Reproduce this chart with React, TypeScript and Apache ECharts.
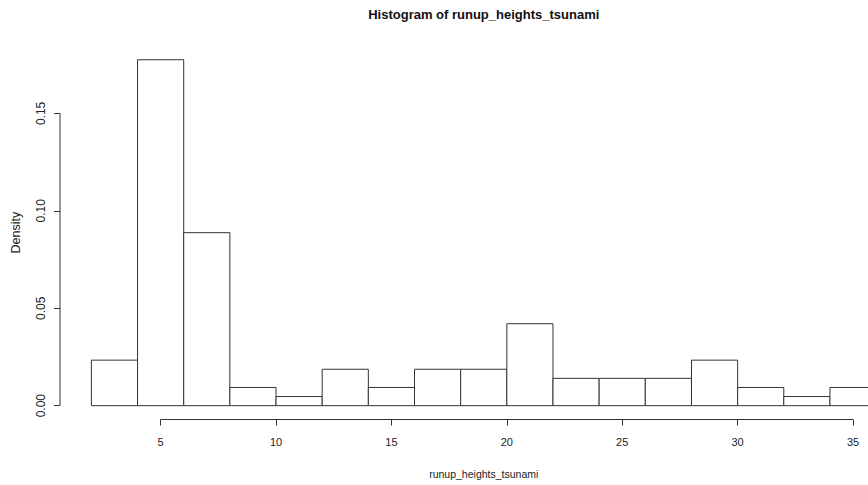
import React, { useEffect, useRef } from "react";
import * as echarts from "echarts";

// Histogram bin edges and counts (R hist, freq = FALSE)
const breaks = [2, 4, 6, 8, 10, 12, 14, 16, 18, 20, 22, 24, 26, 28, 30, 32, 34, 36];
const counts = [5, 38, 19, 2, 1, 4, 2, 4, 4, 9, 3, 3, 3, 5, 2, 1, 2];
const totalCount = 107;
const xTicks = [5, 10, 15, 20, 25, 30, 35];
const yTicks = [0, 0.05, 0.1, 0.15];

const titleText = "Histogram of runup_heights_tsunami";
const xLabel = "runup_heights_tsunami";
const yLabel = "Density";

const FONT = "'Liberation Sans', Arial, Helvetica, sans-serif";
const INK = "#333";

export default function App() {
  const ref = useRef<HTMLDivElement>(null);

  useEffect(() => {
    if (!ref.current) return;
    const chart = echarts.init(ref.current, undefined, { renderer: "svg" });

    const binWidth = breaks[1] - breaks[0];
    const densities = counts.map((c) => c / (totalCount * binWidth));
    const bins = counts.map((_, i) => [breaks[i], breaks[i + 1], densities[i]]);

    // R-style 4% axis extension
    const xMin0 = breaks[0];
    const xMax0 = breaks[breaks.length - 1];
    const xPad = (xMax0 - xMin0) * 0.04;
    const xLim = [xMin0 - xPad, xMax0 + xPad];
    const yMax0 = Math.max(...densities);
    const yPad = yMax0 * 0.04;
    const yLim = [-yPad, yMax0 + yPad];

    const gridLeft = 60;
    const gridRight = -39.5;
    const plotCenter = gridLeft + (868 - gridLeft - gridRight) / 2;

    chart.setOption({
      animation: false,
      backgroundColor: "#fff",
      textStyle: { fontFamily: FONT },
      title: {
        text: titleText,
        left: plotCenter,
        textAlign: "center",
        top: 8,
        padding: 0,
        textStyle: { fontFamily: FONT, fontSize: 13, fontWeight: "bold", color: "#111" },
      },
      grid: {
        left: gridLeft,
        right: gridRight,
        top: 45.9,
        bottom: 65.5,
        outerBoundsMode: "none",
      },
      xAxis: {
        type: "value",
        min: xLim[0],
        max: xLim[1],
        name: xLabel,
        nameLocation: "middle",
        nameGap: 49,
        nameTextStyle: { fontFamily: FONT, fontSize: 10.5, color: "#222" },
        axisLine: { show: false, onZero: false },
        splitLine: { show: false },
        axisTick: { show: true, length: 6, customValues: xTicks, lineStyle: { color: INK, width: 1 } },
        axisLabel: {
          customValues: xTicks,
          margin: 17,
          fontSize: 11,
          color: "#222",
          fontFamily: FONT,
        },
      },
      yAxis: {
        type: "value",
        min: yLim[0],
        max: yLim[1],
        name: yLabel,
        nameLocation: "middle",
        nameRotate: 90,
        nameGap: 38,
        nameTextStyle: { fontFamily: FONT, fontSize: 12.5, color: "#222" },
        axisLine: { show: false, onZero: false },
        splitLine: { show: false },
        axisTick: { show: true, length: 6, customValues: yTicks, lineStyle: { color: INK, width: 1 } },
        axisLabel: {
          customValues: yTicks,
          rotate: 90,
          margin: 13,
          fontSize: 12,
          color: "#222",
          fontFamily: FONT,
          formatter: (v: number) => v.toFixed(2),
        },
      },
      series: [
        {
          type: "custom",
          name: "bars",
          data: bins,
          encode: { x: [0, 1], y: 2 },
          renderItem: (params: any, api: any) => {
            const p0 = api.coord([api.value(0), api.value(2)]);
            const p1 = api.coord([api.value(1), 0]);
            return {
              type: "rect",
              shape: { x: p0[0], y: p0[1], width: p1[0] - p0[0], height: p1[1] - p0[1] },
              style: { fill: "#fff", stroke: INK, lineWidth: 1 },
            };
          },
        },
        {
          type: "custom",
          name: "axes",
          silent: true,
          data: [[xTicks[0], yTicks[0]]],
          renderItem: (params: any, api: any) => {
            const xa0 = api.coord([xTicks[0], yLim[0]]);
            const xa1 = api.coord([xTicks[xTicks.length - 1], yLim[0]]);
            const ya0 = api.coord([xLim[0], yTicks[0]]);
            const ya1 = api.coord([xLim[0], yTicks[yTicks.length - 1]]);
            return {
              type: "group",
              children: [
                {
                  type: "line",
                  shape: { x1: xa0[0], y1: xa0[1], x2: xa1[0], y2: xa1[1] },
                  style: { stroke: INK, lineWidth: 1 },
                },
                {
                  type: "line",
                  shape: { x1: ya0[0], y1: ya0[1], x2: ya1[0], y2: ya1[1] },
                  style: { stroke: INK, lineWidth: 1 },
                },
              ],
            };
          },
        },
      ],
    });

    return () => chart.dispose();
  }, []);

  return (
    <div
      ref={ref}
      style={{ position: "fixed", left: 0, top: 0, width: 868, height: 485, background: "#fff" }}
    />
  );
}
